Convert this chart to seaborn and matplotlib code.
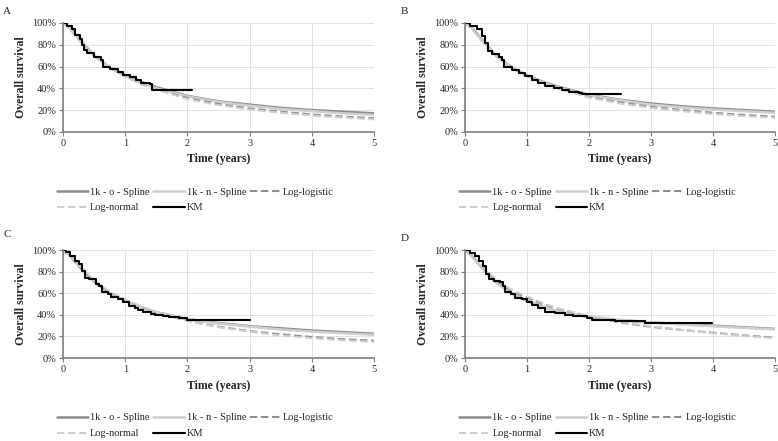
import seaborn as sns
from matplotlib import pyplot as plt
from matplotlib.ticker import PercentFormatter
from matplotlib.lines import Line2D

# time grid for the fitted model curves (years)
t_grid = [0, 0.1, 0.25, 0.5, 0.75, 1, 1.25, 1.5, 2, 2.5, 3, 3.5, 4, 4.5, 5]

# Panel A
a_o_spline = [100, 96, 86, 70, 59, 52, 46, 41, 33, 28, 25, 22, 20, 18.5, 17]
a_n_spline = [100, 96, 86, 70, 59, 51, 45, 40, 32.5, 27.5, 24, 21, 19, 17, 15.5]
a_loglogistic = [100, 96, 85, 70, 59, 51, 44, 39, 31, 25.5, 21.5, 18.5, 16, 14, 12.5]
a_lognormal = [100, 95, 85, 70, 59, 51, 44, 39, 30, 24.5, 20.5, 17.5, 15, 13, 11.5]
a_km_t = [0, 0.07, 0.15, 0.2, 0.28, 0.31, 0.34, 0.39, 0.5, 0.61, 0.64, 0.75, 0.88, 0.96,
          1.07, 1.18, 1.26, 1.39, 1.43, 2.07]
a_km_s = [100, 97, 94, 89, 85, 80, 75, 72, 69, 66, 60, 58, 55, 52,
          50, 48, 45, 44, 38.5, 38.5]

# Panel B
b_o_spline = [100, 96, 86, 70, 59, 52, 46, 41.5, 34, 29.5, 26, 23.5, 21.5, 20, 18.5]
b_n_spline = [100, 96, 86, 70, 59, 51.5, 45.5, 41, 33.5, 29, 25, 22.5, 20.5, 19, 17.5]
b_loglogistic = [100, 96, 85, 70, 59, 51, 45, 40, 32, 27, 23, 20, 17.5, 15.5, 14]
b_lognormal = [100, 95, 85, 70, 59, 51, 45, 40, 31.5, 26, 22, 19, 16.5, 14.5, 13]
b_km_t = [0, 0.08, 0.19, 0.27, 0.32, 0.37, 0.43, 0.54, 0.59, 0.62, 0.75, 0.86, 0.97,
          1.08, 1.18, 1.29, 1.43, 1.56, 1.67, 1.83, 1.88, 2.52]
b_km_s = [100, 97, 94, 88, 81.5, 74.5, 71.5, 69, 66, 60, 57, 54, 51,
          48, 44.5, 42.5, 40, 38.5, 37, 36, 34.5, 34.5]

# Panel C
c_o_spline = [100, 96, 86, 71, 60, 53, 47, 42.5, 36, 32.5, 29.5, 27.5, 25.5, 24, 22.5]
c_n_spline = [100, 96, 86, 71, 60, 53, 47, 42.5, 36, 32, 29, 26.5, 24.5, 23, 21.5]
c_loglogistic = [100, 95, 85, 71, 61, 54, 47.5, 42, 34.5, 29, 25, 22, 19.5, 17.5, 16]
c_lognormal = [100, 95, 86, 72, 61.5, 54, 48, 42.5, 34.5, 28.5, 24.5, 21, 18.5, 16.5, 15]
c_km_t = [0, 0.04, 0.12, 0.2, 0.26, 0.31, 0.35, 0.42, 0.53, 0.58, 0.63, 0.72, 0.77, 0.88,
          0.96, 1.06, 1.15, 1.2, 1.28, 1.41, 1.47, 1.6, 1.71, 1.87, 2.0, 3.0]
c_km_s = [100, 98, 94.5, 90, 87, 80.5, 74.5, 73, 68.5, 67, 61, 59, 57, 55,
          51.5, 48.5, 46, 44.5, 42.5, 40.5, 39.5, 38.5, 38, 37, 35.5, 35.5]

# Panel D
d_o_spline = [100, 95, 85, 70, 60, 53, 47.5, 43, 38, 35, 33, 31.5, 30, 28.5, 27]
d_n_spline = [100, 95, 85, 70, 60, 53, 47.5, 43, 38.5, 35.5, 33, 31, 29.5, 28, 26.5]
d_loglogistic = [100, 95, 86, 72, 62, 56, 50, 45.5, 38.5, 33, 29, 26, 23.5, 21, 19]
d_lognormal = [100, 94, 86, 73, 63, 57, 51, 46, 39, 33.5, 29.5, 26, 23, 20.5, 18.5]
d_km_t = [0, 0.07, 0.15, 0.23, 0.29, 0.34, 0.39, 0.47, 0.56, 0.61, 0.64, 0.74, 0.8, 0.91,
          0.99, 1.07, 1.17, 1.28, 1.45, 1.61, 1.74, 1.96, 2.04, 2.42, 2.85, 2.9, 3.98]
d_km_s = [100, 97.5, 94.5, 90, 85, 77.5, 73.5, 71.5, 70, 67, 61, 59, 56, 54.5,
          51.5, 49, 46, 43, 41.5, 40, 38.5, 37, 35.5, 34.5, 34, 32.5, 32.5]

panels = {
    'A': (a_o_spline, a_n_spline, a_loglogistic, a_lognormal, a_km_t, a_km_s),
    'B': (b_o_spline, b_n_spline, b_loglogistic, b_lognormal, b_km_t, b_km_s),
    'C': (c_o_spline, c_n_spline, c_loglogistic, c_lognormal, c_km_t, c_km_s),
    'D': (d_o_spline, d_n_spline, d_loglogistic, d_lognormal, d_km_t, d_km_s),
}

sns.set_style('white')
plt.rcParams['font.family'] = ['Liberation Serif', 'DejaVu Serif']

dark = '#8c8c8c'
light = '#cfcfcf'
dash = (0, (3.5, 1.8))

fig = plt.figure(figsize=(7.78, 4.41), dpi=100)

# axes rectangles (figure fractions)
boxes = {
    'A': [0.081, 0.701, 0.400, 0.247],
    'B': [0.598, 0.701, 0.398, 0.247],
    'C': [0.081, 0.188, 0.400, 0.245],
    'D': [0.598, 0.188, 0.398, 0.245],
}
letters = {'A': (0.004, 0.985), 'B': (0.515, 0.985), 'C': (0.004, 0.478), 'D': (0.515, 0.470)}

for key, (o_sp, n_sp, llog, lnorm, km_t, km_s) in panels.items():
    ax = fig.add_axes(boxes[key])
    sns.lineplot(x=t_grid, y=o_sp, color=dark, lw=1.8, ax=ax)
    sns.lineplot(x=t_grid, y=n_sp, color=light, lw=1.8, ax=ax)
    sns.lineplot(x=t_grid, y=llog, color=dark, lw=1.5, linestyle=dash, ax=ax)
    sns.lineplot(x=t_grid, y=lnorm, color=light, lw=1.5, linestyle=dash, ax=ax)
    sns.lineplot(x=km_t, y=km_s, color='black', lw=1.5, drawstyle='steps-post', ax=ax)

    ax.set_xlim(0, 5)
    ax.set_ylim(0, 100)
    ax.set_xticks(range(6))
    ax.set_yticks(range(0, 101, 20))
    ax.yaxis.set_major_formatter(PercentFormatter(100, decimals=0))
    ax.grid(True, color='#e3e3e3', lw=0.7)
    ax.set_axisbelow(True)
    for side in ['top', 'right']:
        ax.spines[side].set_visible(False)
    for side in ['left', 'bottom']:
        ax.spines[side].set_color('#7f7f7f')
        ax.spines[side].set_linewidth(1.2)
    ax.tick_params(axis='both', labelsize=7.5, length=3, color='#7f7f7f', pad=2,
                   bottom=True, left=True, direction='out')
    ax.set_xlabel('Time (years)', fontsize=8.5, fontweight='bold', labelpad=4)
    ax.set_ylabel('Overall survival', fontsize=8.5, fontweight='bold', labelpad=4)

    # legend: column-major order gives the reference's row layout
    handles = [
        Line2D([], [], color=dark, lw=1.8),
        Line2D([], [], color=light, lw=1.5, linestyle=dash),
        Line2D([], [], color=light, lw=1.8),
        Line2D([], [], color='black', lw=1.5),
        Line2D([], [], color=dark, lw=1.5, linestyle=dash),
    ]
    labels = ['1k - o - Spline', 'Log-normal', '1k - n - Spline', 'KM', 'Log-logistic']
    ax.legend(handles, labels, ncol=3, loc='upper left', bbox_to_anchor=(-0.02, -0.51),
              frameon=False, fontsize=7.5, handlelength=3.0, handletextpad=0.2,
              columnspacing=0.35, labelspacing=0.62, borderaxespad=0, borderpad=0)

    fig.text(letters[key][0], letters[key][1], key, fontsize=8, va='top', ha='left')

fig.savefig('out.png', dpi=100)
